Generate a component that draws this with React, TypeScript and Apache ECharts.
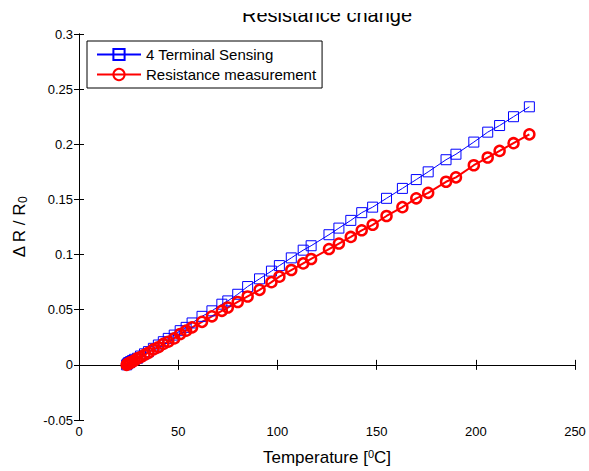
import React, { useEffect, useRef } from "react";
import * as echarts from "echarts";

const temperatures = [
  24.0, 24.5, 25.0, 25.5, 26.0, 27.0, 28.0, 29.5, 31.0, 33.0, 35.0, 37.5, 40.0, 42.5, 45.0, 48.0,
  51.0, 54.0, 57.0, 62.0, 67.0, 72.0, 75.0, 80.0, 85.0, 91.0, 97.0, 101.0, 107.0, 113.0, 117.0,
  126.0, 131.0, 137.0, 142.5, 148.0, 155.0, 163.0, 170.0, 176.0, 185.0, 190.0, 199.0, 206.0,
  212.0, 219.0, 227.0,
];
const fourTerminal = [
  0.0, 0.001, 0.002, 0.002, 0.003, 0.004, 0.005, 0.006, 0.008, 0.010, 0.012, 0.015, 0.018, 0.021,
  0.024, 0.027, 0.031, 0.034, 0.038, 0.044, 0.049, 0.055, 0.058, 0.064, 0.071, 0.078, 0.085, 0.090,
  0.097, 0.104, 0.108, 0.118, 0.124, 0.131, 0.138, 0.143, 0.151, 0.160, 0.168, 0.175, 0.186, 0.191,
  0.202, 0.211, 0.217, 0.225, 0.234,
];
const resistance = [
  0.0, 0.001, 0.001, 0.002, 0.002, 0.003, 0.004, 0.006, 0.007, 0.009, 0.011, 0.014, 0.016, 0.019,
  0.021, 0.024, 0.028, 0.031, 0.034, 0.039, 0.044, 0.049, 0.052, 0.057, 0.062, 0.068, 0.075, 0.080,
  0.086, 0.092, 0.096, 0.105, 0.110, 0.116, 0.122, 0.127, 0.135, 0.143, 0.151, 0.156, 0.166, 0.170,
  0.181, 0.188, 0.194, 0.201, 0.209,
];
const seriesNames = ["4 Terminal Sensing", "Resistance measurement"];
const titleText = "Resistance change";

const FONT = "Liberation Sans, Arial, Helvetica, sans-serif";

export default function App() {
  const ref = useRef<HTMLDivElement>(null);
  useEffect(() => {
    if (!ref.current) return;
    const chart = echarts.init(ref.current, null, { renderer: "svg" });
    const axisCommon = {
      axisLine: { show: true, lineStyle: { color: "#000", width: 1 } },
      axisTick: { show: true, inside: true, length: 5, lineStyle: { color: "#000" } },
      splitLine: { show: false },
    };
    const fmtY = (v: number) => String(parseFloat(v.toFixed(2)));
    chart.setOption({
      animation: false,
      backgroundColor: "#fff",
      textStyle: { fontFamily: FONT },
      title: {
        text: titleText,
        left: 327,
        textAlign: "center",
        top: 4,
        padding: 0,
        textStyle: { fontFamily: FONT, fontSize: 20, fontWeight: "normal", color: "#000", lineHeight: 22 },
      },
      graphic: [
        {
          type: "rect",
          left: 0,
          top: 0,
          z: 100,
          silent: true,
          shape: { width: 589, height: 13 },
          style: { fill: "#fff" },
        },
      ],
      legend: {
        orient: "vertical",
        left: 87,
        top: 41,
        padding: [6, 6, 6, 9],
        itemGap: 5,
        itemWidth: 44,
        itemHeight: 14,
        backgroundColor: "#fff",
        borderColor: "#000",
        borderWidth: 1,
        textStyle: { fontFamily: FONT, fontSize: 15, color: "#000", lineHeight: 14 },
        data: seriesNames,
      },
      grid: { left: 79, right: 14, top: 34, bottom: 47, containLabel: false },
      xAxis: [
        {
          type: "value",
          min: 0,
          max: 250,
          interval: 50,
          position: "bottom",
          ...axisCommon,
          axisLabel: { color: "#000", fontSize: 13, fontFamily: FONT, margin: 5 },
          name: "Temperature [{sup|0}C]",
          nameLocation: "middle",
          nameGap: 28,
          nameTextStyle: {
            color: "#000",
            fontSize: 17,
            fontFamily: FONT,
            rich: { sup: { fontSize: 11, verticalAlign: "top", padding: [0, 0, 8, 0], fontFamily: FONT, color: "#000" } },
          },
        },
        {
          type: "value",
          min: 0,
          max: 250,
          interval: 50,
          position: "top",
          ...axisCommon,
          axisLabel: { show: false },
        },
      ],
      yAxis: [
        {
          type: "value",
          min: -0.05,
          max: 0.3,
          interval: 0.05,
          position: "left",
          ...axisCommon,
          axisLabel: { color: "#000", fontSize: 13, fontFamily: FONT, margin: 6, formatter: fmtY },
          name: "Δ R / R{sub|0}",
          nameLocation: "middle",
          nameGap: 50,
          nameTextStyle: {
            color: "#000",
            fontSize: 17,
            fontFamily: FONT,
            rich: { sub: { fontSize: 12, padding: [8, 0, 0, 0], fontFamily: FONT, color: "#000" } },
          },
        },
        {
          type: "value",
          min: -0.05,
          max: 0.3,
          interval: 0.05,
          position: "right",
          ...axisCommon,
          axisLabel: { show: false },
        },
      ],
      series: [
        {
          name: seriesNames[0],
          type: "line",
          data: temperatures.map((t, i) => [t, fourTerminal[i]]),
          symbol: "rect",
          symbolSize: 10,
          lineStyle: { color: "#0000ff", width: 1 },
          itemStyle: { color: "rgba(0,0,0,0)", borderColor: "#0000ff", borderWidth: 1 },
          emphasis: { disabled: true },
        },
        {
          name: seriesNames[1],
          type: "line",
          data: temperatures.map((t, i) => [t, resistance[i]]),
          symbol: "circle",
          symbolSize: 10,
          lineStyle: { color: "#ff0000", width: 2 },
          itemStyle: { color: "rgba(0,0,0,0)", borderColor: "#ff0000", borderWidth: 2.5 },
          emphasis: { disabled: true },
        },
      ],
    });
    return () => chart.dispose();
  }, []);
  return <div ref={ref} style={{ width: 589, height: 471, position: "absolute", left: 0, top: 0 }} />;
}
